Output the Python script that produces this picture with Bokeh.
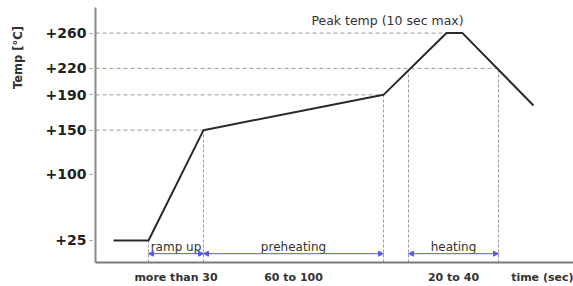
import math
from bokeh.plotting import figure
from bokeh.models import (Range1d, FixedTicker, Arrow, NormalHead, ColumnDataSource,
                          LinearAxis, Label)
from bokeh.embed import file_html
from bokeh.resources import INLINE
from bokeh.core.properties import value

# ---- data ----
profile_time = [18, 53, 108, 288, 351, 367, 438]
profile_temp = [25, 25, 150, 190, 260, 260, 178]

temp_ticks = [25, 100, 150, 190, 220, 260]
temp_tick_labels = ["+25", "+100", "+150", "+190", "+220", "+260"]

guide_temps = [260, 220, 190, 150]
guide_end_times = [351, 403, 288, 108]

marker_times = [53, 108, 288, 313, 403]
marker_temps = [25, 150, 190, 220, 220]

phase_names = ["ramp up", "preheating", "heating"]
phase_start = [53, 108, 313]
phase_end = [108, 288, 403]
phase_duration = ["more than 30", "60 to 100", "20 to 40"]

x_title = "time (sec)"
x_title_pos = 447
y_title = "Temp [°C]"
y_title_pos = 268

arrow_level = 10
phase_label_level = 18

peak_note = "Peak temp (10 sec max)"
peak_note_pos = (292, 274.5)

FONT = "DejaVu Sans"
TXT = "#333333"

p = figure(width=573, height=286, output_backend="svg", toolbar_location=None,
           x_range=Range1d(0, 478), y_range=Range1d(0, 289),
           min_border_left=95, min_border_right=0, min_border_top=7, min_border_bottom=0)
p.outline_line_color = None
p.xgrid.visible = False
p.ygrid.visible = False
p.background_fill_color = "white"
p.border_fill_color = "white"

# y axis
ya = p.yaxis[0]
ya.ticker = FixedTicker(ticks=temp_ticks)
ya.major_label_overrides = {t: l for t, l in zip(temp_ticks, temp_tick_labels)}
ya.axis_line_color = "#8a8a8a"
ya.axis_line_width = 2
ya.major_tick_line_color = "#9a9a9a"
ya.major_tick_line_dash = "3 2"
ya.major_tick_out = 6
ya.major_tick_in = 0
ya.minor_tick_line_color = None
ya.major_label_standoff = 3
ya.major_label_text_font = FONT
ya.major_label_text_font_style = "bold"
ya.major_label_text_font_size = "14px"
ya.major_label_text_color = "#222222"

# y title as an extra left axis with one rotated label
yt = LinearAxis(ticker=FixedTicker(ticks=[y_title_pos]),
                major_label_overrides={y_title_pos: y_title},
                major_label_orientation=math.pi / 2,
                axis_line_color=None, major_tick_line_color=None, minor_tick_line_color=None,
                major_tick_out=0, major_tick_in=0, major_label_standoff=24,
                major_label_text_font=FONT, major_label_text_font_style="bold",
                major_label_text_font_size="11.5px", major_label_text_color=TXT)
p.add_layout(yt, "left")

# x axis
xa = p.xaxis[0]
centers = [(a + b) / 2 for a, b in zip(phase_start, phase_end)]
xticks = centers + [x_title_pos]
xa.ticker = FixedTicker(ticks=xticks)
xa.major_label_overrides = {c: d for c, d in zip(xticks, phase_duration + [x_title])}
xa.axis_line_color = "#7a7a7a"
xa.axis_line_width = 2
xa.major_tick_line_color = None
xa.major_tick_out = 0
xa.major_tick_in = 0
xa.minor_tick_line_color = None
xa.major_label_standoff = 8
xa.major_label_text_font = FONT
xa.major_label_text_font_style = "bold"
xa.major_label_text_font_size = "11px"
xa.major_label_text_color = TXT

# horizontal guides
p.segment(x0=[0] * len(guide_temps), y0=guide_temps, x1=guide_end_times, y1=guide_temps,
          line_color="#9a9a9a", line_width=1, line_dash="4 3")
# vertical guides
p.segment(x0=marker_times, y0=[0] * len(marker_times), x1=marker_times, y1=marker_temps,
          line_color="#9a9a9a", line_width=1, line_dash="3 2")

# profile
p.line(profile_time, profile_temp, line_color="#2a2a2a", line_width=2)

# phase arrows
for s, e in zip(phase_start, phase_end):
    p.add_layout(Arrow(x_start=s, y_start=arrow_level, x_end=e, y_end=arrow_level,
                       line_color="#5a5ae6", line_width=1,
                       start=NormalHead(size=5, line_color="#5a5ae6", fill_color="#5a5ae6"),
                       end=NormalHead(size=5, line_color="#5a5ae6", fill_color="#5a5ae6")))

src = ColumnDataSource(dict(x=centers, y=[phase_label_level] * 3, t=phase_names))
p.text(x="x", y="y", text="t", source=src, text_align="center", text_baseline="middle",
       text_font=value(FONT), text_font_size="12px", text_color=TXT)

p.add_layout(Label(x=peak_note_pos[0], y=peak_note_pos[1], text=peak_note,
                   text_align="center", text_baseline="middle",
                   text_font=FONT, text_font_size="12.5px", text_color=TXT))

open("out.html", "w").write(file_html(p, INLINE))
